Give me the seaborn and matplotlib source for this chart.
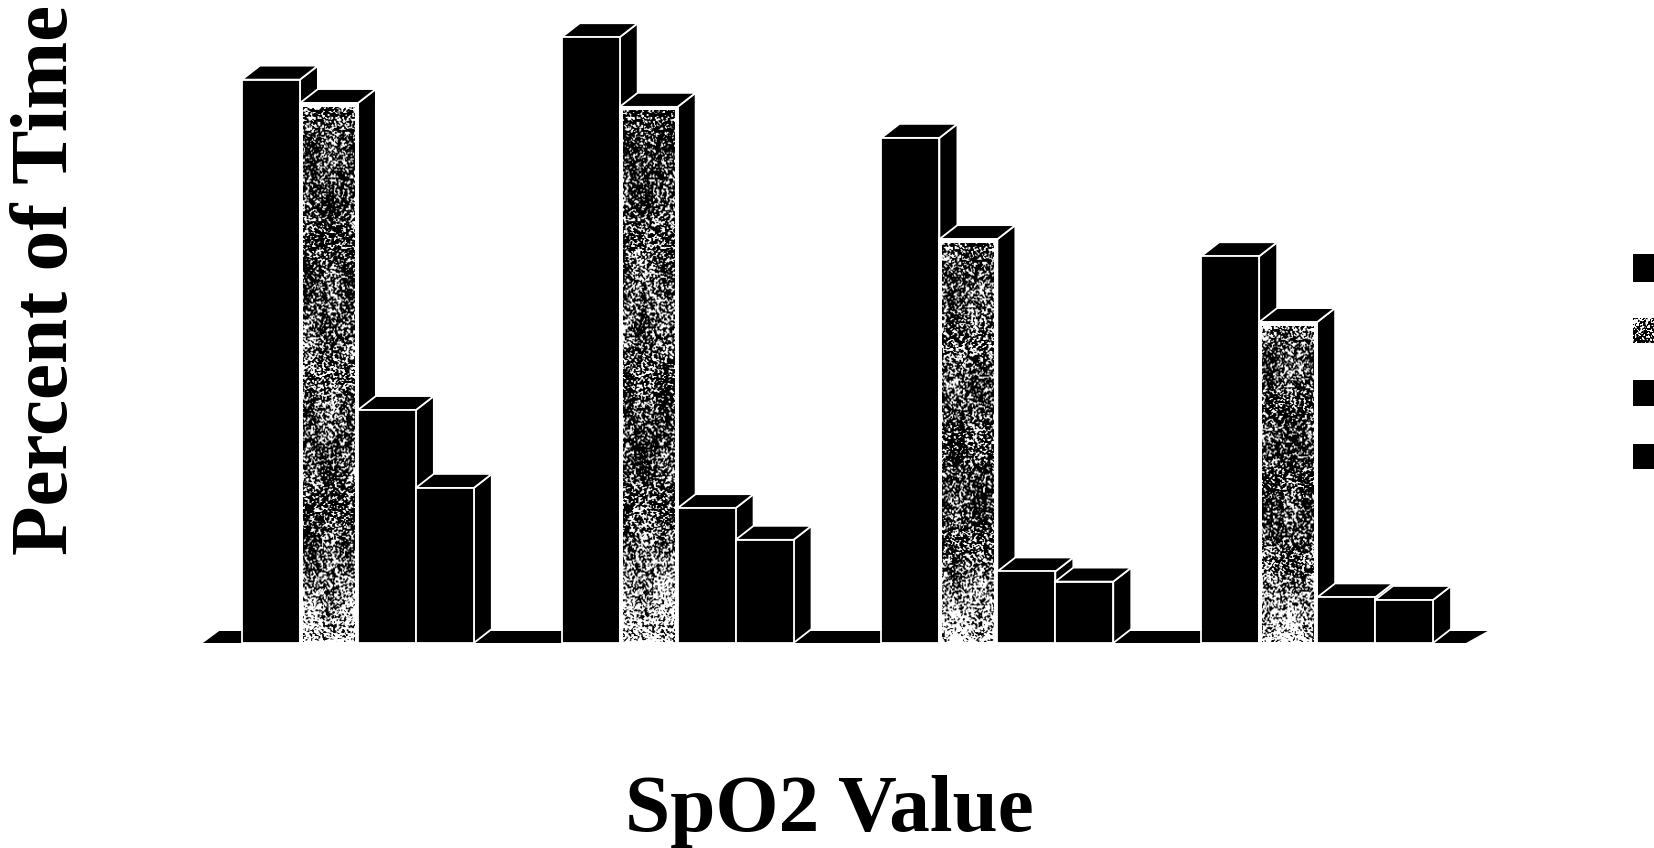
import numpy as np
import pandas as pd
import matplotlib
matplotlib.use('Agg')
import matplotlib.pyplot as plt
from matplotlib.patches import Polygon, Rectangle
import seaborn as sns

# values (no axis ticks in the original, so percent is estimated)
groups = ['A', 'B', 'C', 'D']
series_names = ['S1', 'S2', 'S3', 'S4']
s1 = [89.0, 95.7, 79.8, 61.1]
s2 = [85.3, 84.7, 63.8, 50.7]
s3 = [36.8, 21.3, 11.3, 7.2]
s4 = [24.5, 16.3, 9.7, 6.8]
colors = ['#000000', '#8c8c8c', '#000000', '#000000']

sns.set_style('white')
plt.rcParams['font.family'] = ['Liberation Serif', 'DejaVu Serif']

df = pd.DataFrame({
    'group': groups * 4,
    'series': np.repeat(series_names, 4),
    'value': s1 + s2 + s3 + s4,
})

fig = plt.figure(figsize=(16.54, 8.48), dpi=100)
W, H = 1654, 848
base_y = 643
px_per_unit = 6.33
ax = fig.add_axes([198 / W, (H - base_y) / H, (1477 - 198) / W, base_y / H])

sns.barplot(data=df, x='group', y='value', hue='series', palette=colors, saturation=1,
            width=0.725, gap=0, legend=False, ax=ax, edgecolor='white', linewidth=1.3)
ax.set_xlim(-0.5, 3.5)
ax.set_ylim(0, base_y / px_per_unit)

dx = 18 * (4.0 / (1477 - 198))
dy = 14 / px_per_unit


def speckle(w, h, seed, fade=True):
    # grainy photocopy texture for the grey series, not data
    yy, xx = np.mgrid[:h, :w]
    n = np.sin((xx + seed) * 12.9898 + (yy + seed * 3) * 78.233) * 43758.5453
    n = n - np.floor(n)
    # soften the grain a little
    n = (n + np.roll(n, 1, 0) + np.roll(n, 1, 1) + np.roll(np.roll(n, 1, 0), 1, 1)) / 4
    blob = 0.06 * np.sin(xx / 8 + seed) * np.cos(yy / 21 + seed) + 0.03 * np.sin(yy / 47 + seed * 2)
    p = 0.43 + blob
    if fade:
        p = p + 0.17 * np.clip((yy / h - 0.78) / 0.22, 0, 1)
    return np.clip((p - n) / 0.07 + 0.5, 0, 1)


# floor slab behind the bars
floor = Polygon([(-0.5 + 5 * 4.0 / 1279, 0), (3.5 - 11 * 4.0 / 1279, 0),
                 (3.5 - 11 * 4.0 / 1279 + dx * 1.2, 12 / px_per_unit),
                 (-0.5 + 5 * 4.0 / 1279 + dx * 0.9, 12 / px_per_unit)],
                closed=True, facecolor='black', edgecolor='none', zorder=1, clip_on=False)
ax.add_patch(floor)

z = 2
for g in range(len(groups)):
    for h, cont in enumerate(ax.containers):
        bar = cont[g]
        x0, w, v = bar.get_x(), bar.get_width(), bar.get_height()
        side = Polygon([(x0 + w, 0), (x0 + w + dx, dy), (x0 + w + dx, v + dy), (x0 + w, v)],
                       closed=True, facecolor='black', edgecolor='white', linewidth=1.3, zorder=z)
        top = Polygon([(x0, v), (x0 + dx, v + dy), (x0 + w + dx, v + dy), (x0 + w, v)],
                      closed=True, facecolor='black', edgecolor='white', linewidth=1.3, zorder=z)
        ax.add_patch(side)
        ax.add_patch(top)
        bar.set_zorder(z + 0.1)
        if h == 1:
            bar.set_facecolor('white')
            px_w, px_h = int(w * 1279 / 4), int(v * px_per_unit)
            inset = 3 * 4.0 / 1279
            ax.imshow(speckle(px_w, px_h, g + 1), cmap='gray', vmin=0, vmax=1, aspect='auto',
                      extent=(x0 + inset, x0 + w - inset, 0.2, v - 0.6),
                      interpolation='bilinear', zorder=z + 0.2)
        z += 1
ax.set_xlim(-0.5, 3.5)
ax.set_ylim(0, base_y / px_per_unit)

# legend keys only, the text is cut off in the reference
key_tops = [254, 318, 380, 444]
key_heights = [28, 25, 26, 25]
for i, (kt, kh) in enumerate(zip(key_tops, key_heights)):
    if i == 1:
        kax = fig.add_axes([1633 / W, (H - kt - kh) / H, 21 / W, kh / H])
        kax.imshow(speckle(21, kh, 7, fade=False), cmap='gray', vmin=0, vmax=1, aspect='auto',
                   interpolation='bilinear')
        kax.axis('off')
    else:
        fig.add_artist(Rectangle((1633 / W, (H - kt - kh) / H), 21 / W, kh / H,
                                 transform=fig.transFigure, facecolor='black', edgecolor='none'))

ax.set_xticks([])
ax.set_yticks([])
ax.set_xlabel('')
ax.set_ylabel('')
sns.despine(ax=ax, left=True, bottom=True)
ax.patch.set_alpha(0)
fig.text(829 / W, 1 - 811 / H, 'SpO2 Value', fontsize=58.5, fontweight='bold', color='black',
         ha='center', va='center')
fig.text(48 / W, 1 - 280 / H, 'Percent of Time', fontsize=58.5, fontweight='bold', color='black',
         rotation=90, ha='center', va='center')

fig.savefig('out.png', dpi=100)
